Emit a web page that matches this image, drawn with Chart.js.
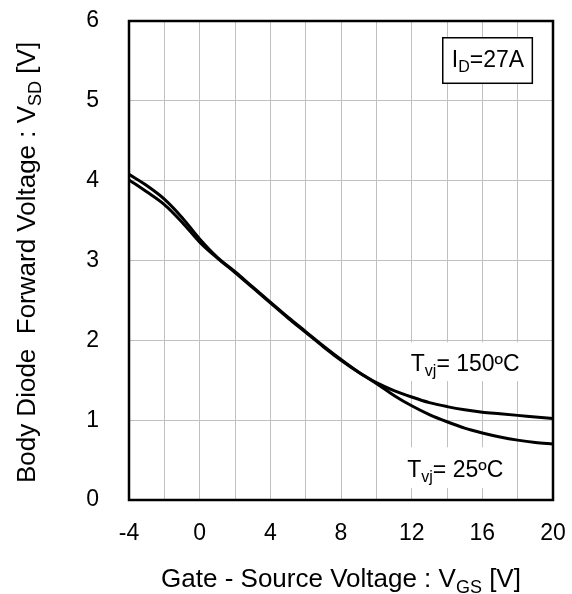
<!DOCTYPE html>
<html>
<head>
<meta charset="utf-8">
<script src="https://cdn.jsdelivr.net/npm/chart.js@4.4.1/dist/chart.umd.min.js"></script>
<style>
html,body{margin:0;padding:0;background:#fff;}
#wrap{width:572px;height:594px;}
</style>
</head>
<body>
<div id="wrap"><canvas id="c" width="572" height="594"></canvas></div>
<script>
const vgs = [-4,-3,-2,-1,0,1,2,3,4,5,6,7,8,9,10,11,12,13,14,15,16,17,18,19,20];
const vsd25 = [4.08,3.94,3.77,3.54,3.27,3.04,2.86,2.67,2.48,2.29,2.11,1.93,1.76,1.60,1.46,1.31,1.18,1.07,0.98,0.90,0.84,0.79,0.75,0.72,0.70];
const vsd150 = [4.01,3.86,3.70,3.48,3.23,3.03,2.85,2.66,2.47,2.28,2.10,1.92,1.75,1.60,1.47,1.37,1.29,1.22,1.17,1.13,1.10,1.08,1.06,1.04,1.02];
const xTicks = [-4,0,4,8,12,16,20];
const yTicks = [0,1,2,3,4,5,6];

const FONT = "'Liberation Sans', Arial, sans-serif";

function toXY(xs, ys){ return xs.map((x,i)=>({x:x, y:ys[i]})); }

function drawRich(ctx, parts, x, y, size, align){
  const subSize = Math.round(size*0.68);
  let w = 0;
  parts.forEach(p=>{
    ctx.font = (p[1]?subSize:size)+'px '+FONT;
    w += ctx.measureText(p[0]).width;
  });
  let cx = align==='center' ? x - w/2 : x;
  ctx.textBaseline = 'alphabetic';
  ctx.textAlign = 'left';
  parts.forEach(p=>{
    ctx.font = (p[1]?subSize:size)+'px '+FONT;
    ctx.fillText(p[0], cx, y + (p[1]? size*0.22 : 0));
    cx += ctx.measureText(p[0]).width;
  });
}

function noPad(s){ s.paddingTop = 0; s.paddingBottom = 0; s.paddingLeft = 0; s.paddingRight = 0; }

const annot = {
  id:'annot',
  beforeDatasetsDraw(chart){
    const ctx = chart.ctx, xs = chart.scales.x, ys = chart.scales.y;
    ctx.save();
    ctx.fillStyle = '#fff';
    ctx.fillRect(xs.getPixelForValue(11.45), ys.getPixelForValue(1.975), xs.getPixelForValue(19.1)-xs.getPixelForValue(11.45), ys.getPixelForValue(1.49)-ys.getPixelForValue(1.975));
    ctx.fillRect(xs.getPixelForValue(11.35), ys.getPixelForValue(0.66), xs.getPixelForValue(17.45)-xs.getPixelForValue(11.35), ys.getPixelForValue(0.15)-ys.getPixelForValue(0.66));
    ctx.restore();
  },
  afterDraw(chart){
    const ctx = chart.ctx, xs = chart.scales.x, ys = chart.scales.y, a = chart.chartArea;
    ctx.save();
    ctx.strokeStyle = '#000';
    ctx.lineWidth = 2.5;
    ctx.strokeRect(a.left, a.top, a.right-a.left, a.bottom-a.top);
    const bx1 = xs.getPixelForValue(13.76), bx2 = xs.getPixelForValue(18.83);
    const by1 = ys.getPixelForValue(5.79), by2 = ys.getPixelForValue(5.22);
    ctx.fillStyle = '#fff';
    ctx.fillRect(bx1, by1, bx2-bx1, by2-by1);
    ctx.lineWidth = 1.5;
    ctx.strokeRect(bx1, by1, bx2-bx1, by2-by1);
    ctx.fillStyle = '#000';
    drawRich(ctx, [['I',0],['D',1],['=27A',0]], xs.getPixelForValue(14.27), ys.getPixelForValue(5.43), 23, 'left');
    drawRich(ctx, [['T',0],['vj',1],['= 150ºC',0]], xs.getPixelForValue(11.95), ys.getPixelForValue(1.616), 23, 'left');
    drawRich(ctx, [['T',0],['vj',1],['= 25ºC',0]], xs.getPixelForValue(11.75), ys.getPixelForValue(0.29), 23, 'left');
    drawRich(ctx, [['Gate - Source Voltage : V',0],['GS',1],[' [V]',0]], (a.left+a.right)/2, 587, 26, 'center');
    ctx.translate(35, (a.top+a.bottom)/2 + 2);
    ctx.rotate(-Math.PI/2);
    drawRich(ctx, [['Body Diode  Forward Voltage : V',0],['SD',1],[' [V]',0]], 0, 0, 26, 'center');
    ctx.restore();
  }
};

new Chart(document.getElementById('c'), {
  type:'line',
  data:{
    datasets:[
      {label:'Tvj=25ºC', data:toXY(vgs, vsd25), borderColor:'#000', borderWidth:3, pointRadius:0, cubicInterpolationMode:'monotone', fill:false},
      {label:'Tvj=150ºC', data:toXY(vgs, vsd150), borderColor:'#000', borderWidth:3, pointRadius:0, cubicInterpolationMode:'monotone', fill:false}
    ]
  },
  options:{
    responsive:false,
    animation:false,
    devicePixelRatio:1,
    layout:{padding:{top:21,right:19,left:0,bottom:0}},
    plugins:{legend:{display:false}, tooltip:{enabled:false}},
    scales:{
      x:{
        type:'linear', min:-4, max:20,
        afterFit(s){ s.height = 94; noPad(s); },
        afterBuildTicks(s){ const t=[]; for(let v=-4; v<=20; v+=2) t.push({value:v}); s.ticks=t; },
        grid:{color:'#c0c0c0', lineWidth:1, drawTicks:false},
        border:{display:false},
        ticks:{padding:20, color:'#000', font:{family:FONT, size:23},
          callback:(v)=> xTicks.includes(v) ? String(v) : ''}
      },
      y:{
        type:'linear', min:0, max:6,
        afterFit(s){ s.width = 129; noPad(s); },
        afterBuildTicks(s){ s.ticks = yTicks.map(v=>({value:v})); },
        grid:{color:'#c0c0c0', lineWidth:1, drawTicks:false},
        border:{display:false},
        ticks:{padding:30, color:'#000', font:{family:FONT, size:23}}
      }
    }
  },
  plugins:[annot]
});
</script>
</body>
</html>
